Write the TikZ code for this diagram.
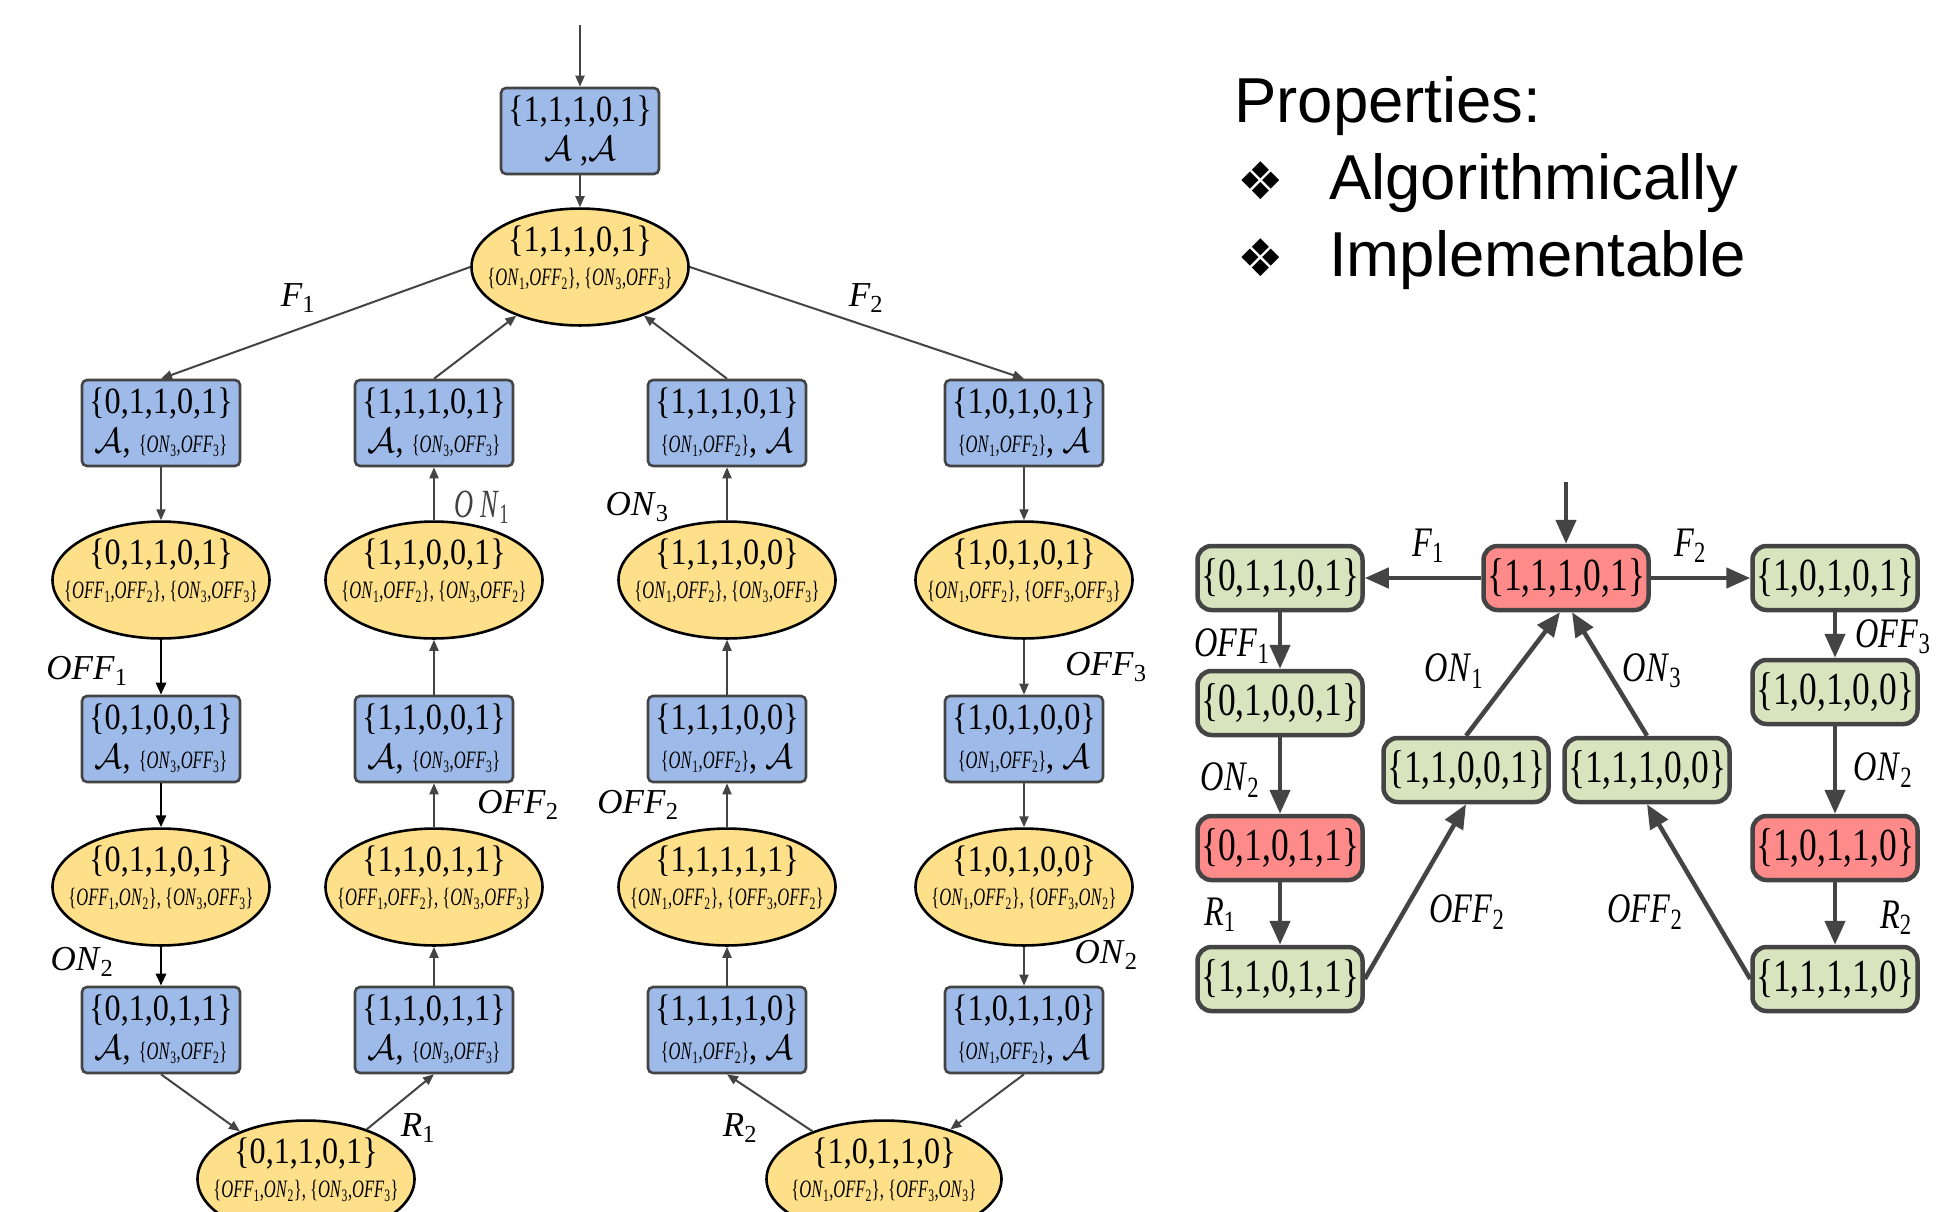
\RequirePackage{fix-cm}
\documentclass[tikz,border=0pt]{standalone}
\usepackage{fontspec}
\setmainfont{Liberation Serif}
\newfontfamily\sansfnt{Liberation Sans}
\newfontfamily\symfnt{DejaVu Sans}
\newfontfamily\nfnt[FakeStretch=0.87]{Liberation Serif}
\newfontfamily\sqfnt[FakeStretch=0.66]{Liberation Serif}
\newfontfamily\stfnt[FakeStretch=0.77]{Liberation Serif}
\usetikzlibrary{arrows.meta,shapes.geometric}

\definecolor{boxblue}{RGB}{158,186,233}
\definecolor{ellyellow}{RGB}{254,224,138}
\definecolor{stgreen}{RGB}{216,228,190}
\definecolor{stred}{RGB}{255,138,138}
\definecolor{edgegray}{RGB}{68,68,68}

\newcommand\lbl[2]{\textit{#1}\textsubscript{#2}}
\newcommand\onoff[4]{\{\lbl{#1}{#2},\lbl{#3}{#4}\}}
\newcommand\calA{$\mathcal{A}$}
\newcommand\sset[1]{{\sqfnt\fontsize{25}{25}\selectfont #1}}
\newcommand\bigA{{\fontsize{35}{35}\selectfont\calA}}
\newcommand\bxA[3]{\{#1\}\\\bigA, \sset{\onoff{ON}{#2}{OFF}{#3}}}
\newcommand\bxB[3]{\{#1\}\\\sset{\onoff{ON}{#2}{OFF}{#3}}, \bigA}
\newcommand\elc[2]{\{#1\}\\\sset{#2}\\[-11pt]\mbox{}}

\begin{document}
\begin{tikzpicture}[x=1pt,y=-1pt,
  bx/.style={draw=edgegray,line width=2.6pt,fill=boxblue,rounded corners=5pt,minimum width=158pt,minimum height=86pt,inner sep=0pt,align=center,font=\nfnt\fontsize{37}{39}\selectfont},
  el/.style={ellipse,draw=black,line width=2.6pt,fill=ellyellow,minimum width=217pt,minimum height=116pt,inner ysep=0pt,inner xsep=-22pt,align=center,font=\nfnt\fontsize{37}{34}\selectfont},
  ar/.style={draw=edgegray,line width=2pt,-{Triangle[length=11pt,width=9pt]}},
  arb/.style={draw=black,line width=2.8pt,-{Triangle[length=12pt,width=10pt]}},
  lb/.style={font=\fontsize{35}{35}\selectfont,inner sep=0pt},
  st/.style={draw=edgegray,line width=4.5pt,rounded corners=14pt,minimum width=165pt,minimum height=64pt,inner sep=0pt,font=\stfnt\fontsize{46}{46}\selectfont},
  gst/.style={st,fill=stgreen},
  rst/.style={st,fill=stred},
  ar2/.style={draw=edgegray,line width=4.5pt,-{Triangle[length=24pt,width=20pt]}},
  ptxt/.style={font=\sansfnt\fontsize{63.5}{63.5}\selectfont,anchor=base west,inner sep=0pt},
  bul/.style={font=\symfnt\fontsize{52}{52}\selectfont,anchor=base,inner sep=0pt}
]
\clip (0,0) rectangle (1948,1211);
\fill[white] (0,0) rectangle (1948,1211);

% ---------------- left tree ----------------
\coordinate (in0) at (580,25);
\node[bx] (b0) at (580,131) {\{1,1,1,0,1\}\\\bigA\ ,\bigA};
\node[el] (e0) at (580,267) {\elc{1,1,1,0,1}{\onoff{ON}{1}{OFF}{2}, \onoff{ON}{3}{OFF}{3}}};

\node[bx] (b12) at (161,423) {\bxA{0,1,1,0,1}{3}{3}};
\node[bx] (b22) at (434,423) {\bxA{1,1,1,0,1}{3}{3}};
\node[bx] (b32) at (727,423) {\bxB{1,1,1,0,1}{1}{2}};
\node[bx] (b42) at (1024,423) {\bxB{1,0,1,0,1}{1}{2}};

\node[el] (e13) at (161,580) {\elc{0,1,1,0,1}{\onoff{OFF}{1}{OFF}{2}, \onoff{ON}{3}{OFF}{3}}};
\node[el] (e23) at (434,580) {\elc{1,1,0,0,1}{\onoff{ON}{1}{OFF}{2}, \onoff{ON}{3}{OFF}{2}}};
\node[el] (e33) at (727,580) {\elc{1,1,1,0,0}{\onoff{ON}{1}{OFF}{2}, \onoff{ON}{3}{OFF}{3}}};
\node[el] (e43) at (1024,580) {\elc{1,0,1,0,1}{\onoff{ON}{1}{OFF}{2}, \onoff{OFF}{3}{OFF}{3}}};

\node[bx] (b14) at (161,739) {\bxA{0,1,0,0,1}{3}{3}};
\node[bx] (b24) at (434,739) {\bxA{1,1,0,0,1}{3}{3}};
\node[bx] (b34) at (727,739) {\bxB{1,1,1,0,0}{1}{2}};
\node[bx] (b44) at (1024,739) {\bxB{1,0,1,0,0}{1}{2}};

\node[el] (e15) at (161,887) {\elc{0,1,1,0,1}{\onoff{OFF}{1}{ON}{2}, \onoff{ON}{3}{OFF}{3}}};
\node[el] (e25) at (434,887) {\elc{1,1,0,1,1}{\onoff{OFF}{1}{OFF}{2}, \onoff{ON}{3}{OFF}{3}}};
\node[el] (e35) at (727,887) {\elc{1,1,1,1,1}{\onoff{ON}{1}{OFF}{2}, \onoff{OFF}{3}{OFF}{2}}};
\node[el] (e45) at (1024,887) {\elc{1,0,1,0,0}{\onoff{ON}{1}{OFF}{2}, \onoff{OFF}{3}{ON}{2}}};

\node[bx] (b16) at (161,1030) {\bxA{0,1,0,1,1}{3}{2}};
\node[bx] (b26) at (434,1030) {\bxA{1,1,0,1,1}{3}{3}};
\node[bx] (b36) at (727,1030) {\bxB{1,1,1,1,0}{1}{2}};
\node[bx] (b46) at (1024,1030) {\bxB{1,0,1,1,0}{1}{2}};

\node[el] (ebl) at (306,1179) {\elc{0,1,1,0,1}{\onoff{OFF}{1}{ON}{2}, \onoff{ON}{3}{OFF}{3}}};
\node[el,minimum width=235pt] (ebr) at (884,1179) {\elc{1,0,1,1,0}{\onoff{ON}{1}{OFF}{2}, \onoff{OFF}{3}{ON}{3}}};

% edges
\draw[ar] (in0) -- (b0.north);
\draw[ar] (b0) -- (e0);
\draw[ar] (e0.west) -- (b12.north);
\draw[ar] (e0.east) -- (b42.north);
\draw[ar] (b22.north) -- (e0);
\draw[ar] (b32.north) -- (e0);

\draw[ar] (b12) -- (e13);
\draw[arb] (e13) -- (b14);
\draw[arb] (b14) -- (e15);
\draw[arb] (e15) -- (b16);
\draw[ar] (b16.south) -- (ebl);

\draw[ar] (ebl) -- (b26.south);
\draw[ar] (b26) -- (e25);
\draw[ar] (e25) -- (b24);
\draw[ar] (b24) -- (e23);
\draw[ar] (e23) -- (b22);

\draw[ar] (ebr) -- (b36.south);
\draw[ar] (b36) -- (e35);
\draw[ar] (e35) -- (b34);
\draw[ar] (b34) -- (e33);
\draw[ar] (e33) -- (b32);

\draw[ar] (b42) -- (e43);
\draw[ar] (e43) -- (b44);
\draw[ar] (b44) -- (e45);
\draw[ar] (e45) -- (b46);
\draw[ar] (b46.south) -- (ebr);

% labels
\node[lb] (lF1) at (298,298) {\lbl{F}{1}};
\node[lb] (lF2) at (866,298) {\lbl{F}{2}};
\node[lb] (lOFF1) at (87,671) {\lbl{OFF}{1}};
\node[lb] (lON2a) at (82,962) {\lbl{ON}{2}};
\node[lb] (lR1) at (418,1128) {\lbl{R}{1}};
\node[lb] (lOFF2a) at (518,805) {\lbl{OFF}{2}};
\node[lb] (lOFF2b) at (638,805) {\lbl{OFF}{2}};
\node[lb] (lON3) at (637,507) {\lbl{ON}{3}};
\node[lb,text=black!75,font=\sqfnt\fontsize{40}{40}\selectfont] (lON1) at (482,507) {\lbl{O\,N}{1}};
\node[lb] (lOFF3) at (1106,667) {\lbl{OFF}{3}};
\node[lb] (lON2b) at (1106,955) {\lbl{ON}{2}};
\node[lb] (lR2) at (740,1128) {\lbl{R}{2}};

% ---------------- right panel ----------------
\node[ptxt] (pt0) at (1234,122) {Properties:};
\node[bul] (pb1) at (1261,199) {❖};
\node[ptxt] (pt1) at (1329,199) {Algorithmically};
\node[bul] (pb2) at (1261,276) {❖};
\node[ptxt] (pt2) at (1329,276) {Implementable};

\coordinate (in1) at (1566,482);
\node[rst] (r0) at (1566,578) {\{1,1,1,0,1\}};
\node[gst] (gL1) at (1280,578) {\{0,1,1,0,1\}};
\node[gst] (gR1) at (1835,578) {\{1,0,1,0,1\}};
\node[gst] (gL2) at (1280,703) {\{0,1,0,0,1\}};
\node[rst] (rL3) at (1280,848) {\{0,1,0,1,1\}};
\node[gst] (gL4) at (1280,979) {\{1,1,0,1,1\}};
\node[gst] (gR2) at (1835,692) {\{1,0,1,0,0\}};
\node[rst] (rR3) at (1835,848) {\{1,0,1,1,0\}};
\node[gst] (gR4) at (1835,979) {\{1,1,1,1,0\}};
\node[gst] (m1) at (1466,770) {\{1,1,0,0,1\}};
\node[gst] (m2) at (1647,770) {\{1,1,1,0,0\}};

\draw[ar2] (in1) -- (r0.north);
\draw[ar2] (r0.west) -- (gL1.east);
\draw[ar2] (r0.east) -- (gR1.west);
\draw[ar2] (gL1) -- (gL2);
\draw[ar2] (gL2) -- (rL3);
\draw[ar2] (rL3) -- (gL4);
\draw[ar2] (gR1) -- (gR2);
\draw[ar2] (gR2) -- (rR3);
\draw[ar2] (rR3) -- (gR4);
\draw[ar2] (gL4.east) -- (m1.south);
\draw[ar2] (gR4.west) -- (m2.south);
\draw[ar2] (m1.north) -- ([xshift=-6pt]r0.south);
\draw[ar2] (m2.north) -- ([xshift=6pt]r0.south);

\tikzset{rl/.style={lb,font=\stfnt\fontsize{42}{42}\selectfont}}
\node[rl] (qF1) at (1428,546) {\lbl{F}{1}};
\node[rl] (qF2) at (1690,546) {\lbl{F}{2}};
\node[rl] (qOFF1) at (1232,646) {\lbl{OFF}{1}};
\node[rl] (qON2a) at (1230,780) {\lbl{ON}{2}};
\node[rl] (qR1) at (1220,915) {\lbl{R}{1}};
\node[rl] (qON1) at (1454,671) {\lbl{ON}{1}};
\node[rl] (qON3) at (1652,671) {\lbl{ON}{3}};
\node[rl] (qOFF3) at (1893,637) {\lbl{OFF}{3}};
\node[rl] (qON2b) at (1883,770) {\lbl{ON}{2}};
\node[rl] (qOFF2a) at (1467,912) {\lbl{OFF}{2}};
\node[rl] (qOFF2b) at (1645,912) {\lbl{OFF}{2}};
\node[rl] (qR2) at (1896,918) {\lbl{R}{2}};
\end{tikzpicture}
\end{document}
